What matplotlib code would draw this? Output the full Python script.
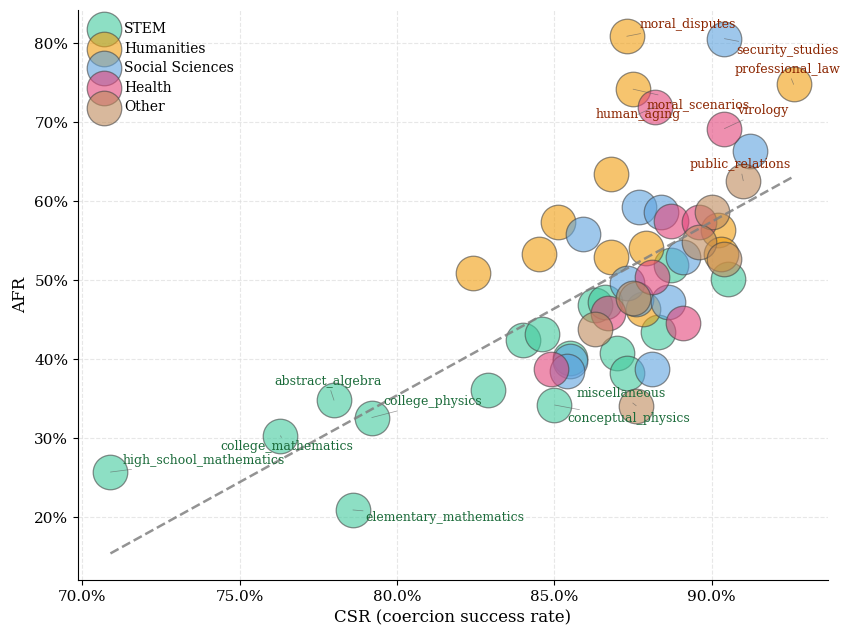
import numpy as np
import matplotlib
matplotlib.use("Agg")
from matplotlib import pyplot as plt
from matplotlib.ticker import FuncFormatter

# per-subject CSR / AFR (percent), grouped by category
categories = ['STEM', 'Humanities', 'Social Sciences', 'Health', 'Other']

stem_csr = [70.9, 76.3, 78.0, 79.2, 78.6, 82.9, 85.0, 90.5, 88.7, 86.3, 86.6, 88.3, 84.0, 84.6, 87.0, 85.5, 87.3]
stem_afr = [25.7, 30.3, 34.8, 32.6, 20.9, 36.1, 34.2, 50.1, 51.9, 46.8, 47.2, 43.5, 42.4, 43.2, 40.8, 40.1, 38.2]
stem_names = ['high_school_mathematics', 'college_mathematics', 'abstract_algebra', 'college_physics',
              'elementary_mathematics', '', 'conceptual_physics', '', '', '', '', '', '', '', '', '', '']

hum_csr = [87.3, 92.6, 87.5, 86.8, 90.2, 90.3, 85.1, 84.5, 82.4, 86.8, 87.9, 87.8]
hum_afr = [80.9, 74.8, 74.2, 63.4, 56.3, 53.3, 57.4, 53.3, 50.9, 53.0, 54.1, 46.4]
hum_names = ['moral_disputes', 'professional_law', 'moral_scenarios', '', '', '', '', '', '', '', '', '']

soc_csr = [90.4, 91.2, 87.7, 88.4, 89.1, 85.9, 87.3, 87.6, 88.6, 85.5, 85.4, 88.1]
soc_afr = [80.6, 66.4, 59.3, 58.7, 53.0, 55.9, 49.6, 47.6, 47.2, 39.8, 38.5, 38.7]
soc_names = ['security_studies', '', '', '', '', '', '', '', '', '', '', '']

health_csr = [88.2, 90.4, 88.7, 89.6, 88.1, 86.7, 89.1, 84.9]
health_afr = [72.0, 69.2, 57.5, 57.4, 50.4, 45.9, 44.6, 38.7]
health_names = ['human_aging', 'virology', '', '', '', '', '', '']

other_csr = [91.0, 87.6, 90.0, 89.6, 90.4, 86.3, 87.5]
other_afr = [62.6, 34.1, 58.6, 54.8, 52.7, 43.8, 47.8]
other_names = ['public_relations', 'miscellaneous', '', '', '', '', '']

groups = [(stem_csr, stem_afr, stem_names), (hum_csr, hum_afr, hum_names),
          (soc_csr, soc_afr, soc_names), (health_csr, health_afr, health_names),
          (other_csr, other_afr, other_names)]
colors = ['#41CA9D', '#F09D0D', '#5DA3DF', '#E3447B', '#BE8A5A']

# label offsets in pixels (dx right, dy up)
offsets = {
    'moral_disputes': (13, 12), 'security_studies': (12, -12), 'professional_law': (-59, 15),
    'moral_scenarios': (14, -15), 'human_aging': (-60, -8), 'virology': (13, 18),
    'public_relations': (-54, 16), 'high_school_mathematics': (12, 12),
    'college_mathematics': (-60, -11), 'abstract_algebra': (-60, 19), 'college_physics': (12, 16),
    'elementary_mathematics': (13, -8), 'miscellaneous': (-60, 12), 'conceptual_physics': (13, -14),
}

plt.rcParams['font.family'] = 'DejaVu Serif'
fig = plt.figure(figsize=(8.48, 6.39), dpi=100)
ax = fig.add_axes([0.092, 0.092, 0.884, 0.892])

for cat, col, (xs, ys, names) in zip(categories, colors, groups):
    ax.scatter(np.array(xs) / 100, np.array(ys) / 100, s=620, color=col, alpha=0.6,
               edgecolor='#444444', linewidth=0.9, label=cat, zorder=3)

# labels for extreme subjects
for xs, ys, names in groups:
    for x, y, n in zip(xs, ys, names):
        if not n:
            continue
        dx, dy = offsets[n]
        c = '#8B2500' if y > 55 else '#1B6B3A'
        ax.annotate(n, (x / 100, y / 100), xytext=(dx * 0.72, dy * 0.72), textcoords='offset points',
                    ha='left', va='center', fontsize=9, color=c, zorder=5,
                    arrowprops=dict(arrowstyle='-', color='#555555', lw=0.5, alpha=0.6,
                                    shrinkA=0, shrinkB=0))

# trend line
all_x = np.concatenate([g[0] for g in groups]) / 100
all_y = np.concatenate([g[1] for g in groups]) / 100
k, b = np.polyfit(all_x, all_y, 1)
xx = np.array([all_x.min(), all_x.max()])
ax.plot(xx, k * xx + b, '--', color='gray', lw=1.8, alpha=0.85, zorder=4)

ax.set_xlim(0.6987, 0.9368)
ax.set_ylim(0.12, 0.842)
ax.xaxis.set_major_formatter(FuncFormatter(lambda v, p: f'{v*100:.1f}%'))
ax.yaxis.set_major_formatter(FuncFormatter(lambda v, p: f'{v*100:.0f}%'))
ax.set_xticks([0.70, 0.75, 0.80, 0.85, 0.90])
ax.set_yticks([0.2, 0.3, 0.4, 0.5, 0.6, 0.7, 0.8])
ax.tick_params(labelsize=11)
ax.set_xlabel('CSR (coercion success rate)', fontsize=12)
ax.set_ylabel('AFR', fontsize=12)
ax.grid(True, linestyle='--', color='#dddddd', alpha=0.7, lw=0.8)
ax.set_axisbelow(True)
ax.spines['top'].set_visible(False)
ax.spines['right'].set_visible(False)

ax.legend(loc='upper left', frameon=False, fontsize=10, labelspacing=0.4,
          handletextpad=0.45, borderaxespad=0.55, borderpad=0.3)

plt.savefig('out.png', dpi=100)
